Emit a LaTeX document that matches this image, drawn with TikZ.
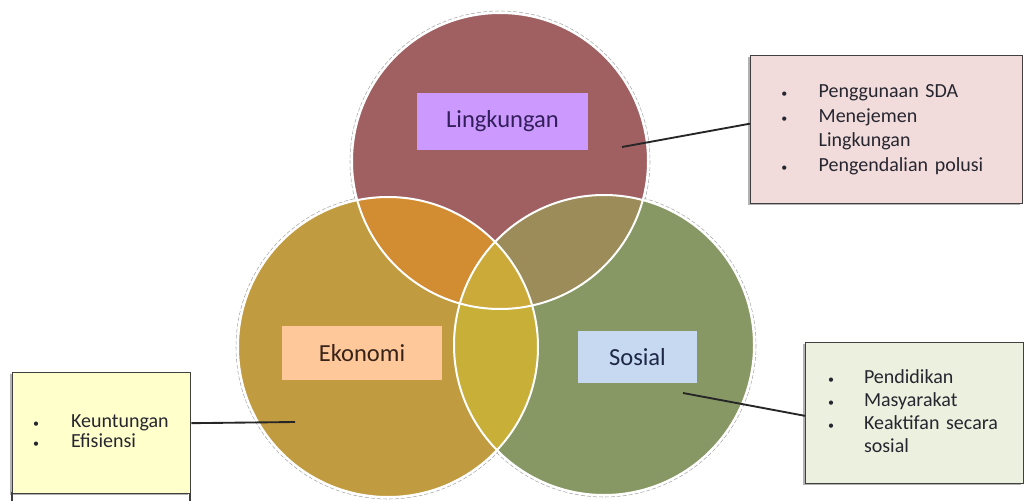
\documentclass[tikz,border=0pt]{standalone}
\usepackage{fontspec}
\setmainfont{Carlito}
\usepackage{array}
\definecolor{ctop}{HTML}{A06062}
\definecolor{cleft}{HTML}{C09B40}
\definecolor{cright}{HTML}{889864}
\definecolor{ctl}{HTML}{D28C32}
\definecolor{ctr}{HTML}{9B8C5A}
\definecolor{clr}{HTML}{C8AF37}
\definecolor{call}{HTML}{CCAA3A}
\definecolor{lblpurple}{HTML}{CC99FF}
\definecolor{lblpeach}{HTML}{FFC89A}
\definecolor{lblblue}{HTML}{C6D9F1}
\definecolor{boxpink}{HTML}{F2DCDB}
\definecolor{boxgreen}{HTML}{EBF1DE}
\definecolor{boxyellow}{HTML}{FFFFCC}
\definecolor{txtdark}{HTML}{262630}
\definecolor{borderc}{HTML}{404040}
\tikzset{
  ring/.style={draw=white, line width=1.5pt},
  halo/.style={draw=gray!70, line width=0.4pt, dash pattern=on 3pt off 1.5pt},
  label box/.style={rectangle, inner sep=0pt, font=\fontsize{18.4pt}{22pt}\selectfont},
  info box/.style={rectangle, draw=borderc, line width=1pt, anchor=north west,
    align=left, inner ysep=0pt, text=txtdark,
    font=\fontsize{15pt}{18.4pt}\selectfont},
  connector/.style={draw=black!85, line width=1.4pt},
}
\newcommand{\bul}[1]{\makebox[#1][l]{\small\textbullet}}
\begin{document}
\begin{tikzpicture}[x=0.75pt,y=-0.75pt]
\useasboundingbox (0,0) rectangle (1025,500);
% halos
\draw[halo] (500,161) circle (150);
\draw[halo] (388,347) circle (152);
\draw[halo] (604,345) circle (152);
% circle fills
\fill[ctop] (500,161) circle (148);
\fill[cleft] (388,347) circle (150);
\fill[cright] (604,345) circle (150);
\begin{scope}
  \clip (500,161) circle (148);
  \fill[ctl] (388,347) circle (150);
  \fill[ctr] (604,345) circle (150);
\end{scope}
\begin{scope}
  \clip (388,347) circle (150);
  \fill[clr] (604,345) circle (150);
\end{scope}
\begin{scope}
  \clip (500,161) circle (148);
  \clip (388,347) circle (150);
  \fill[call] (604,345) circle (150);
\end{scope}
\draw[ring] (500,161) circle (148);
\draw[ring] (388,347) circle (150);
\draw[ring] (604,345) circle (150);
% labels
\node[label box, fill=lblpurple, minimum width=128pt, minimum height=43pt, text={rgb,255:red,50;green,30;blue,90}] (ling) at (502.5,121.5) {Lingkungan};
\node[label box, fill=lblpeach, minimum width=120pt, minimum height=40.5pt, text={rgb,255:red,55;green,35;blue,25}] (eko) at (362,353) {Ekonomi};
\node[label box, fill=lblblue, minimum width=89pt, minimum height=39pt, text={rgb,255:red,30;green,40;blue,70}] (sos) at (637.5,357) {Sosial};
% info boxes (shadows)
\fill[gray!60] (748,57) rectangle (1020,205);
\fill[gray!60] (803,344) rectangle (1021,485);
\fill[gray!60] (10,374) rectangle (188,495);
\draw[borderc, line width=1pt] (12,493) rectangle (190,506);
\node[info box, fill=boxpink, minimum width=204pt, minimum height=111pt, inner xsep=23pt, text width=158pt] (tr) at (750,55)
  {\begin{tabular}{@{}l@{}l@{}}
   \bul{28pt} & Penggunaan SDA\\
   \bul{28pt} & Menejemen\\
              & Lingkungan\\
   \bul{28pt} & Pengendalian polusi
   \end{tabular}};
\node[info box, fill=boxgreen, minimum width=163.5pt, minimum height=105.75pt, inner xsep=16.5pt, text width=130pt] (br) at (805,342)
  {\fontsize{15pt}{17.25pt}\selectfont
   \begin{tabular}{@{}l@{}l@{}}
   \bul{27pt} & Pendidikan\\
   \bul{27pt} & Masyarakat\\
   \bul{27pt} & Keaktifan secara\\
              & sosial
   \end{tabular}};
\node[info box, fill=boxyellow, minimum width=133.5pt, minimum height=90.75pt, inner xsep=15pt, text width=103pt] (lb) at (12,372)
  {\fontsize{15pt}{15pt}\selectfont
   \begin{tabular}{@{}l@{}l@{}}
   \bul{28.5pt} & Keuntungan\\
   \bul{28.5pt} & Efisiensi
   \end{tabular}};
% connectors
\coordinate (pt) at (622,147);
\coordinate (pl) at (295,422);
\coordinate (pr) at (683,393);
\draw[connector] (pt) -- ([yshift=4.5pt]tr.west);
\draw[connector] ([yshift=7.5pt]lb.east) -- (pl);
\draw[connector] (pr) -- ([yshift=-2pt]br.west);
\end{tikzpicture}
\end{document}
